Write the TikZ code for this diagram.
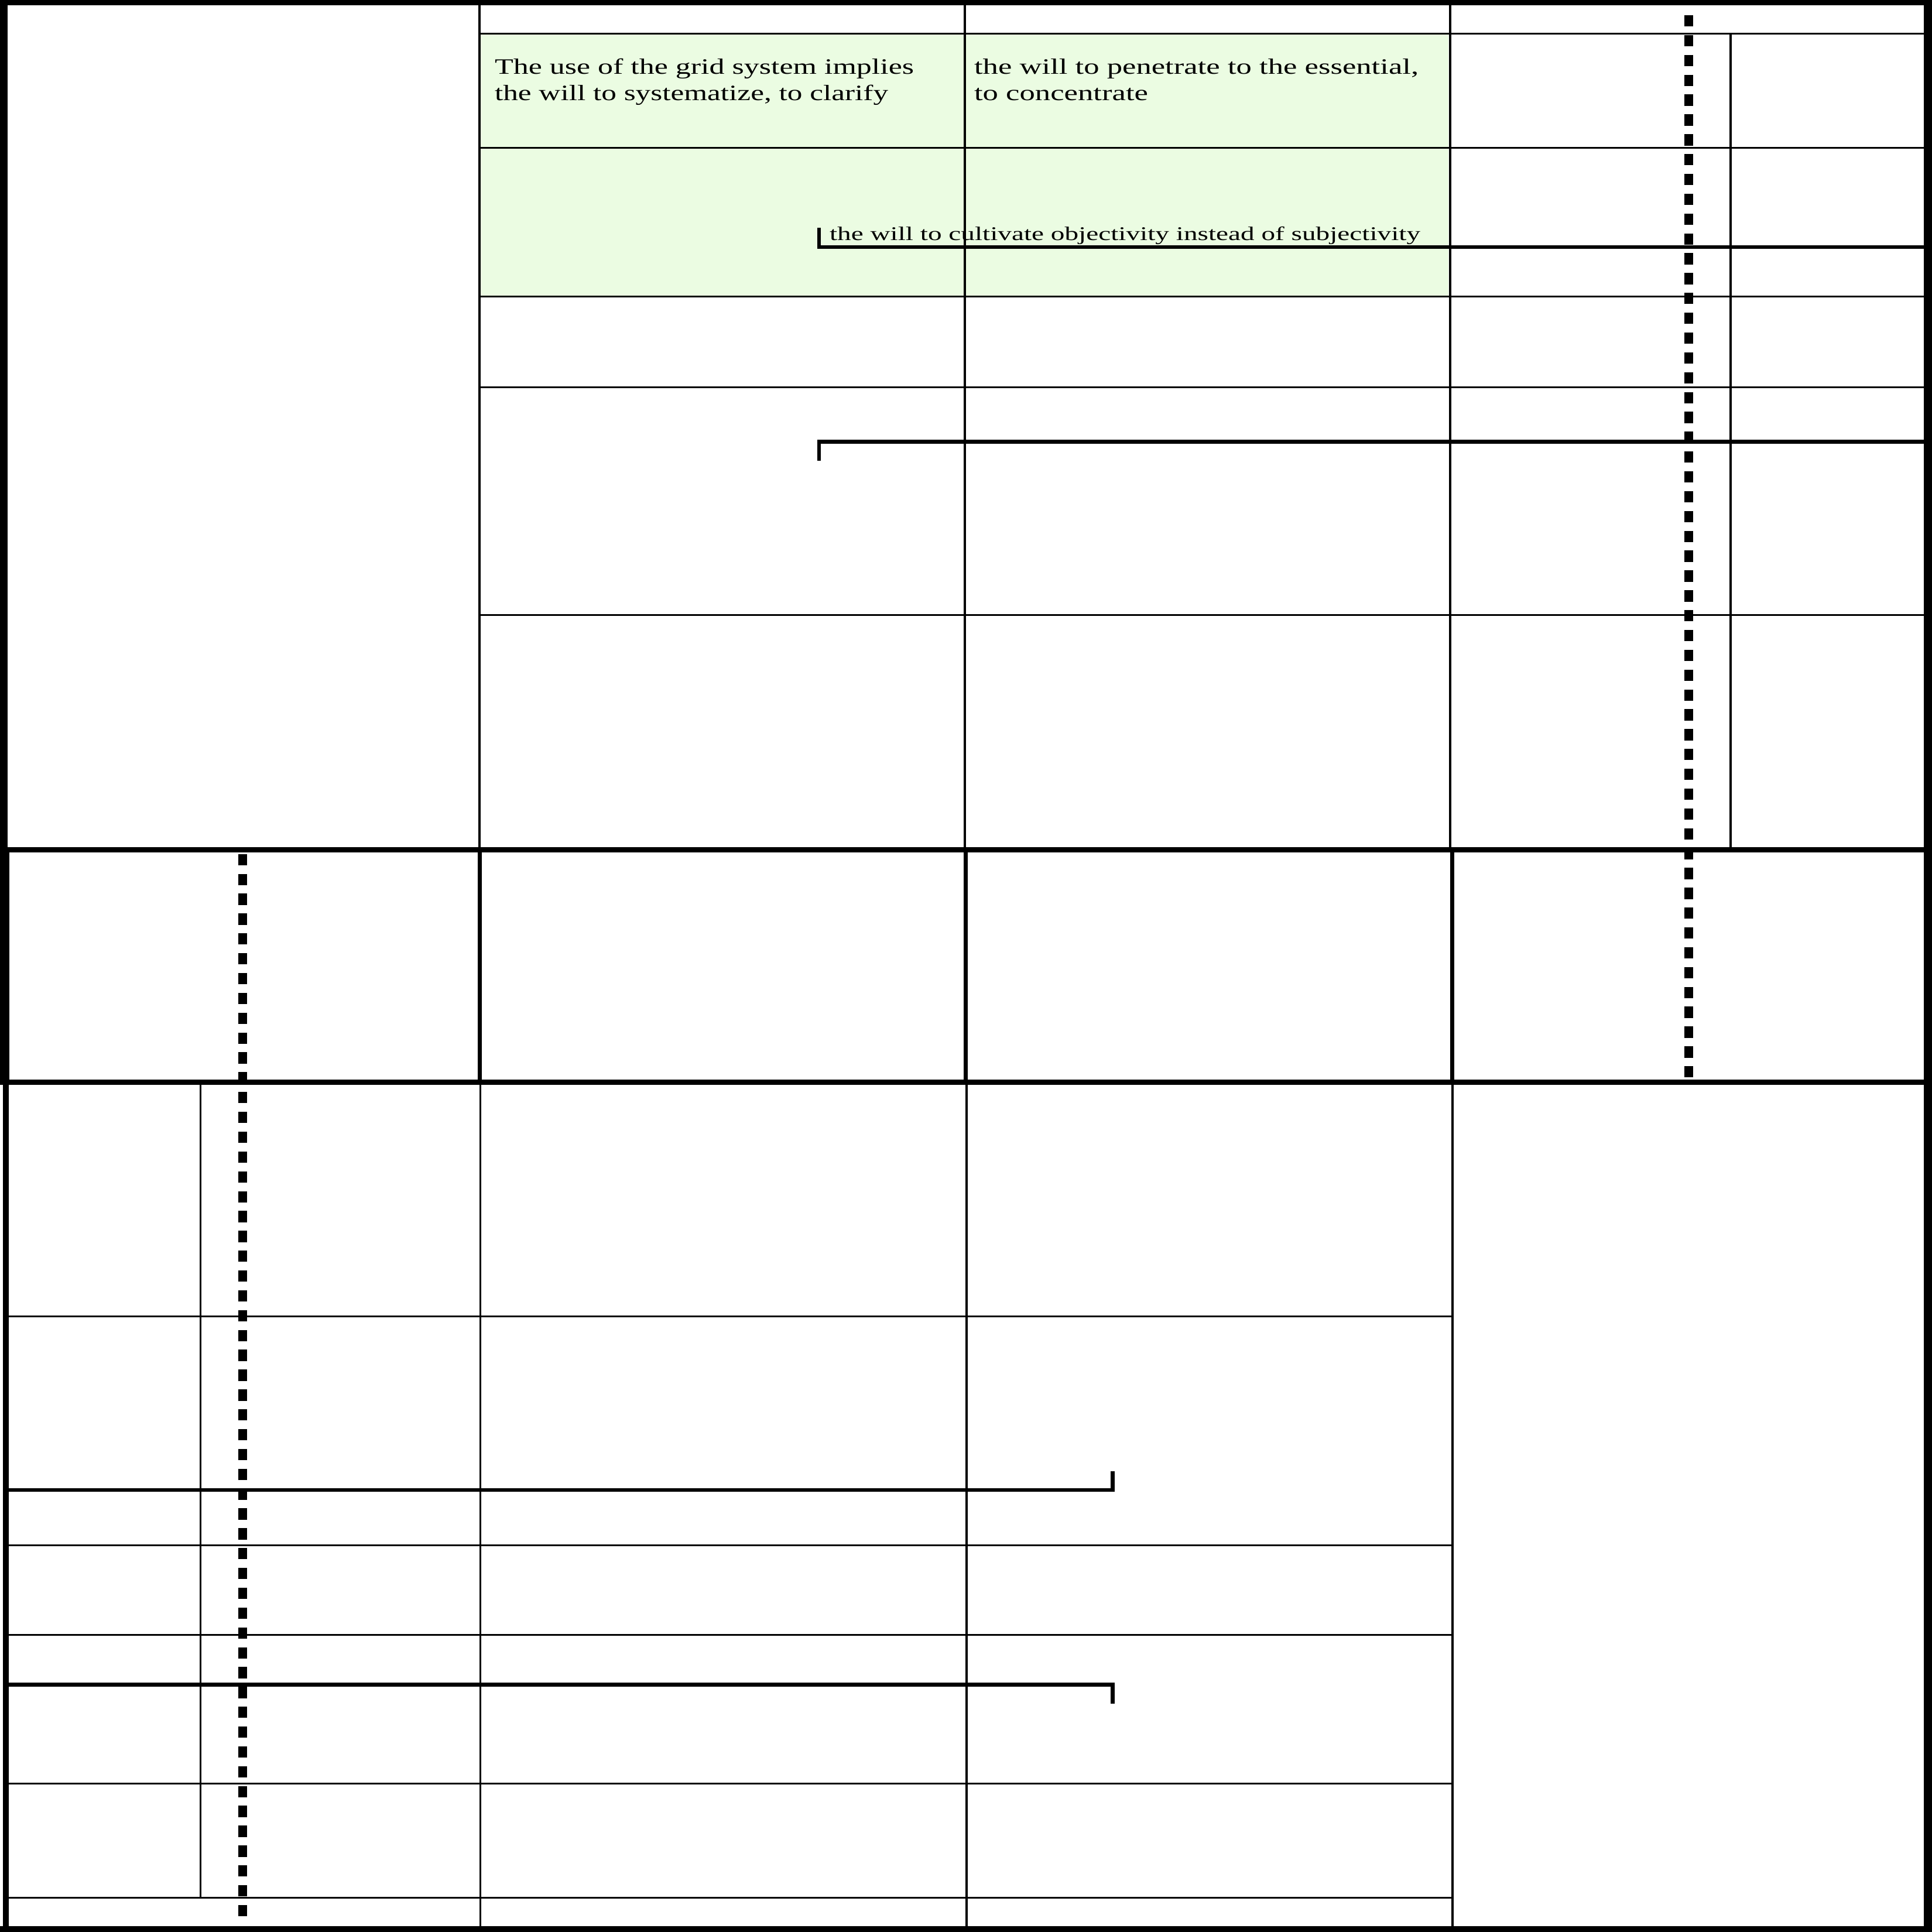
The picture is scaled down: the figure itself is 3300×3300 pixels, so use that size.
\documentclass[tikz,border=0pt]{standalone}
\usepackage{fontspec}
\setmainfont{Liberation Serif}
\usepackage{graphicx}
\definecolor{gridgreen}{RGB}{235,252,226}
\newcommand{\fitw}[2]{\resizebox{#1}{\height}{#2}}
\tikzset{
  thinh/.style={line width=0.30mm},
  thinv/.style={line width=0.36mm},
  bandh/.style={line width=0.9mm},
  bandv/.style={line width=0.7mm},
  brk/.style={line width=0.65mm, line join=miter},
  dotline/.style={line width=1.55mm, dash pattern=on 1.93mm off 1.457mm},
  txtnode/.style={inner sep=0pt, outer sep=0pt, anchor=base west},
  txtbig/.style={txtnode, font=\fontsize{10.67pt}{12pt}\selectfont},
  txtsmall/.style={txtnode, font=\fontsize{9.4pt}{11pt}\selectfont},
  frame/.style={fill=black},
}
\begin{document}
\begin{tikzpicture}[x=0.1mm,y=-0.1mm]
\useasboundingbox (0,0) rectangle (3300,3300);
% green area
\fill[gridgreen] (819,57) rectangle (2474,507);
% top section horizontals
\foreach \yy in {57.4,252.5,507,661,1050}
  \draw[thinh] (819,\yy) -- (3290,\yy);
% top section verticals
\draw[thinv] (819,0) -- (819,1451);
\draw[thinv] (1648,0) -- (1648,1451);
\draw[thinv] (2477,0) -- (2477,1451);
\draw[thinv] (2956,57.4) -- (2956,1451);
% middle band
\draw[bandh] (0,1451) -- (3290,1451);
\draw[bandh] (0,1848) -- (3290,1848);
\draw[bandv] (819.5,1451) -- (819.5,1848);
\draw[bandv] (1649,1451) -- (1649,1848);
\draw[bandv] (2480,1451) -- (2480,1848);
\draw[thinv] (14.3,1451) -- (14.3,1848);
% bottom section verticals
\draw[thinv] (342.5,1848) -- (342.5,3241.7);
\draw[thinv] (820.5,1848) -- (820.5,3295);
\draw[thinv] (1651,1848) -- (1651,3295);
\draw[thinv] (2481,1848) -- (2481,3295);
% bottom section horizontals
\foreach \yy in {2248,2639,2792,3046.7,3241.7}
  \draw[thinh] (10,\yy) -- (2481,\yy);
% brackets
\draw[brk] (1399,389) -- (1399,422) -- (3290,422);
\draw[brk] (1399,787) -- (1399,754.5) -- (3290,754.5);
\draw[brk] (10,2545) -- (1900.5,2545) -- (1900.5,2513);
\draw[brk] (10,2877.7) -- (1900.5,2877.7) -- (1900.5,2910);
% dotted lines
\draw[dotline] (2884.5,26) -- (2884.5,1841);
\draw[dotline] (414.5,1458.7) -- (414.5,3273.5);
% outer frame
\fill[frame] (0,0) rectangle (3300,9);
\fill[frame] (0,0) rectangle (12.7,1853);
\fill[frame] (5,1848) rectangle (15,3300);
\fill[frame] (3286,0) rectangle (3300,3300);
\fill[frame] (0,3290) rectangle (3300,3300);
% texts
\node[txtbig] (t1a) at (845,127) {\fitw{7.16cm}{The use of the grid system implies}};
\node[txtbig] (t1b) at (845,171.5) {\fitw{6.72cm}{the will to systematize, to clarify}};
\node[txtbig] (t2a) at (1664,127) {\fitw{7.59cm}{the will to penetrate to the essential,}};
\node[txtbig] (t2b) at (1664,171.5) {\fitw{2.97cm}{to concentrate}};
\node[txtsmall] (t3) at (1417,411) {\fitw{10.09cm}{the will to cultivate objectivity instead of subjectivity}};
\end{tikzpicture}
\end{document}
